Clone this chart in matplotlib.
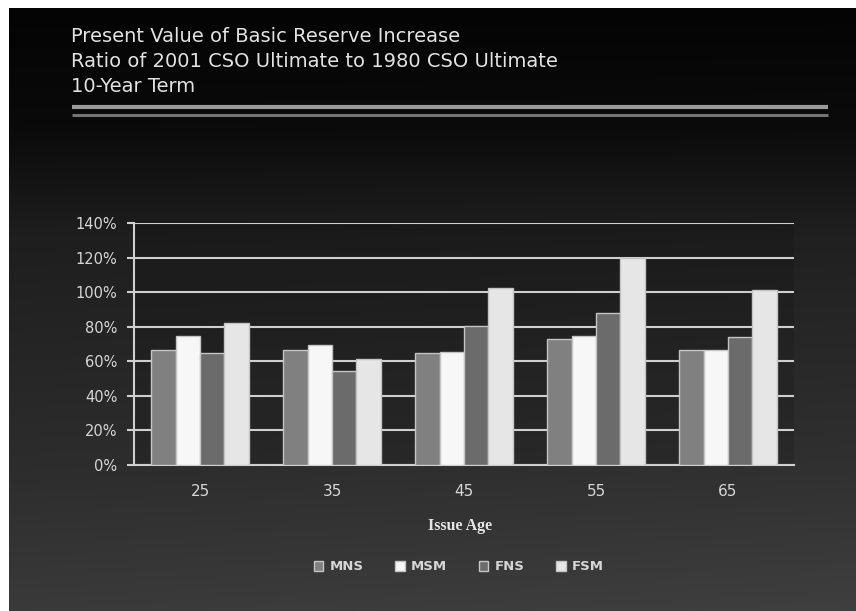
import numpy as np
import matplotlib
matplotlib.use("Agg")
import matplotlib.pyplot as plt
from matplotlib.patches import Patch
from matplotlib.lines import Line2D

# ---- data ----
ages = ["25", "35", "45", "55", "65"]
series = ["MNS", "MSM", "FNS", "FSM"]
mns = [66.5, 66.5, 65.0, 73.0, 66.5]
msm = [74.5, 69.5, 65.5, 74.5, 66.5]
fns = [65.0, 54.5, 80.5, 88.0, 74.0]
fsm = [82.0, 61.5, 102.5, 119.5, 101.5]
yticks = [0, 20, 40, 60, 80, 100, 120, 140]
title_lines = ["Present Value of Basic Reserve Increase",
               "Ratio of 2001 CSO Ultimate to 1980 CSO Ultimate",
               "10-Year Term"]

colors = ["#808080", "#f7f7f7", "#6b6b6b", "#e6e6e6"]

W, H = 856, 611
fig = plt.figure(figsize=(W / 100, H / 100), dpi=100)
fig.patch.set_facecolor("white")

# background gradient panel
bg = fig.add_axes([0, 0, 1, 1], zorder=0)
bg.set_xlim(0, W)
bg.set_ylim(H, 0)
bg.axis("off")
ys = np.array([0, 120, 230, 470, 611])
vs = np.array([4, 10, 30, 45, 58]) / 255.0
col = np.interp(np.arange(H), ys, vs)
xs = np.linspace(0, 1, W)
img = col[:, None] + 0.02 * xs[None, :] * (np.arange(H)[:, None] / H)
img = np.clip(img, 0, 1)
rgb = np.dstack([img, img, img])
bg.imshow(rgb, extent=(9, W, H, 8), aspect="auto", interpolation="bilinear")

# title
for i, t in enumerate(title_lines):
    fig.text(71 / W, 1 - (36 + 25.5 * i) / H, t, color="#e2e2e2", fontsize=14,
             ha="left", va="center", family="DejaVu Sans", zorder=5)
fig.add_artist(Line2D([72 / W, 828 / W], [1 - 106.5 / H] * 2, color="#9a9a9a",
                      lw=3.0, solid_capstyle="butt", zorder=5))
fig.add_artist(Line2D([72 / W, 828 / W], [1 - 115 / H] * 2, color="#747474",
                      lw=2.2, solid_capstyle="butt", zorder=5))

# main axes
ax = fig.add_axes([134 / W, 1 - 465 / H, 660 / W, 242 / H], zorder=2)
ax.set_facecolor((0, 0, 0, 0.12))
x = np.arange(len(ages))
bw = 0.184
for k, (vals, c) in enumerate(zip([mns, msm, fns, fsm], colors)):
    ax.bar(x + (k - 1.5) * bw, vals, width=bw, color=c, edgecolor="#c4c4c4",
           linewidth=1.0, zorder=3, label=series[k])

ax.set_xlim(-0.5, len(ages) - 0.5)
ax.set_ylim(0, 140)
ax.set_yticks(yticks)
ax.set_yticklabels([f"{v}%" for v in yticks])
ax.yaxis.grid(True, color="#cfcfcf", linewidth=1.5, zorder=1)
ax.set_axisbelow(True)
ax.set_xticks(x)
ax.set_xticklabels(ages)
for s in ["top", "right"]:
    ax.spines[s].set_visible(False)
ax.spines["left"].set_color("#cfcfcf")
ax.spines["bottom"].set_color("#cfcfcf")
ax.spines["left"].set_linewidth(1.5)
ax.spines["bottom"].set_linewidth(1.5)
ax.tick_params(axis="y", colors="#cfcfcf", labelcolor="#d6d6d6", labelsize=10.5,
               length=5, width=1.5, direction="out", pad=7)
ax.tick_params(axis="x", which="major", length=0, labelsize=11,
               labelcolor="#d6d6d6", pad=14)

fig.text(460 / W, 1 - 526 / H, "Issue Age", color="#e6e6e6", fontsize=11.5,
         fontweight="bold", family="Liberation Serif", ha="center", va="center",
         zorder=5)

handles = [Patch(facecolor=c, edgecolor="#c4c4c4", linewidth=1.0) for c in colors]
leg = fig.legend(handles, series, loc="center", bbox_to_anchor=(459 / W, 1 - 567 / H),
                 ncol=4, frameon=False, prop={"size": 9.5, "weight": "bold"},
                 handlelength=0.7, handleheight=0.7, handletextpad=0.5,
                 columnspacing=2.4, labelcolor="#d6d6d6")

fig.savefig("out.png", dpi=100, facecolor=fig.get_facecolor())
